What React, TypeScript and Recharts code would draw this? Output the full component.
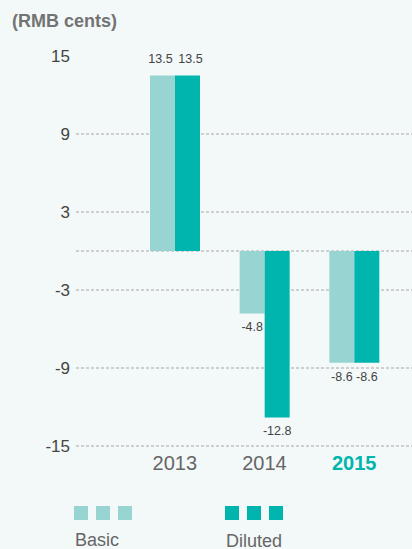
import React from "react";
import { BarChart, Bar, XAxis, YAxis, CartesianGrid, Legend, LabelList } from "recharts";

const years = ["2013", "2014", "2015"];
const basic = [13.5, -4.8, -8.6];
const diluted = [13.5, -12.8, -8.6];
const yTicks = [-15, -9, -3, 3, 9, 15];
const gridValues = [-15, -9, -3, 0, 3, 9];

const BASIC_COLOR = "#98d4d1";
const DILUTED_COLOR = "#00b5ad";
const FONT = "'Liberation Sans', Arial, Helvetica, sans-serif";

const chartData = years.map((year, i) => ({
  year,
  basic: basic[i],
  diluted: diluted[i],
}));

// positive labels sit a bit apart in the original, negatives are centred
const makeValueLabel = (shift: number) => (props: any) => {
  const { x, y, width, height, value } = props;
  const top = Math.min(y, y + height);
  const bottom = Math.max(y, y + height);
  const ty = value >= 0 ? top - 13 : bottom + 18;
  const dx = value >= 0 ? shift : 0;
  return (
    <text x={x + width / 2 + dx} y={ty} textAnchor="middle" fill="#444" fontSize={12.5} fontFamily={FONT}>
      {value}
    </text>
  );
};

const YearTick = (props: any) => {
  const { x, y, payload } = props;
  const current = payload.value === years[years.length - 1];
  return (
    <text
      x={x}
      y={y}
      dy={16}
      textAnchor="middle"
      fontSize={20}
      fontFamily={FONT}
      fontWeight={current ? "bold" : "normal"}
      fill={current ? DILUTED_COLOR : "#666"}
    >
      {payload.value}
    </text>
  );
};

const renderLegend = (props: any) => {
  const { payload } = props;
  return (
    <div style={{ position: "relative", height: 54 }}>
      {(payload || []).map((entry: any, i: number) => (
        <div key={entry.value} style={{ position: "absolute", left: 74 + i * 151, top: 0 }}>
          <div style={{ display: "flex", gap: 8 }}>
            {[0, 1, 2].map((k) => (
              <div key={k} style={{ width: 14, height: 14, background: entry.color }} />
            ))}
          </div>
          <div style={{ marginTop: 10 + i, marginLeft: 1, fontSize: 18, color: "#666", fontFamily: FONT, lineHeight: "20px" }}>
            {entry.value}
          </div>
        </div>
      ))}
    </div>
  );
};

export default function App() {
  return (
    <div style={{ position: "relative", width: 412, height: 549, background: "#f3f8f8", overflow: "hidden" }}>
      <style>{`body{margin:0}`}</style>
      <div
        style={{
          position: "absolute",
          left: 12,
          top: 11,
          fontSize: 18,
          lineHeight: "20px",
          fontWeight: "bold",
          color: "#737373",
          fontFamily: FONT,
        }}
      >
        (RMB cents)
      </div>
      <BarChart
        width={412}
        height={549}
        data={chartData}
        margin={{ top: 56, right: 0, left: 0, bottom: 73 }}
        barGap={0}
        barSize={25}
      >
        <CartesianGrid
          vertical={false}
          horizontalValues={gridValues}
          stroke="#a8a8a8"
          strokeDasharray="3 2"
        />
        <XAxis
          dataKey="year"
          height={30}
          axisLine={false}
          tickLine={false}
          padding={{ left: 54, right: 13 }}
          tick={<YearTick />}
          interval={0}
        />
        <YAxis
          type="number"
          domain={[-15, 15]}
          ticks={yTicks}
          width={76}
          axisLine={false}
          tickLine={false}
          tickSize={0}
          tickMargin={6}
          tick={{ fill: "#444", fontSize: 17, fontFamily: FONT }}
        />
        <Legend
          verticalAlign="middle"
          align="center"
          content={renderLegend}
          wrapperStyle={{ left: 0, top: 506, width: 412 }}
        />
        <Bar dataKey="basic" name="Basic" fill={BASIC_COLOR} isAnimationActive={false}>
          <LabelList dataKey="basic" content={makeValueLabel(-2)} />
        </Bar>
        <Bar dataKey="diluted" name="Diluted" fill={DILUTED_COLOR} isAnimationActive={false}>
          <LabelList dataKey="diluted" content={makeValueLabel(3)} />
        </Bar>
      </BarChart>
    </div>
  );
}
